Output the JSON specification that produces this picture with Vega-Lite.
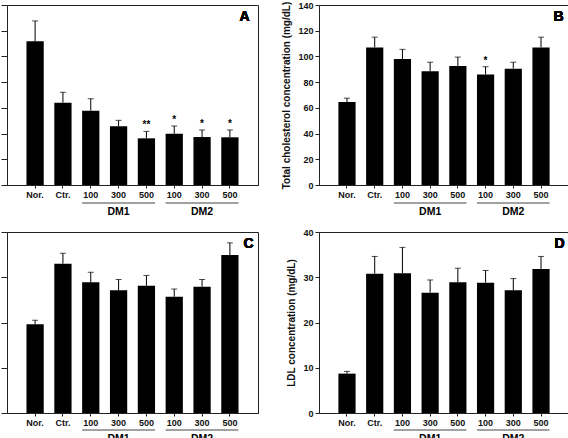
{
  "$schema": "https://vega.github.io/schema/vega-lite/v6.json",
  "autosize": {"type": "pad"},
  "padding": {"left": 0, "top": 0, "right": 0, "bottom": 0},
  "background": "white",
  "config": {
    "view": {"stroke": "#222", "strokeWidth": 1},
    "font": "Liberation Sans",
    "axis": {
      "grid": false, "domainColor": "#222", "tickColor": "#222", "labelColor": "#111", "titleColor": "#111",
      "labelFont": "Liberation Sans", "labelFontWeight": "bold", "labelFontSize": 9,
      "titleFont": "Liberation Sans", "titleFontWeight": "bold", "titleFontSize": 10
    },
    "axisY": {"labelOverlap": false, "labelFlush": false},
    "bar": {"color": "#000"},
    "text": {"font": "Liberation Sans", "fontWeight": "bold", "color": "#000"}
  },
  "datasets": {
    "A": [
      {"cat": "Nor.", "mean": 111.8, "err": 127.6, "sig": ""},
      {"cat": "Ctr.", "mean": 64.0, "err": 72.1, "sig": ""},
      {"cat": "DM1-100", "mean": 57.8, "err": 67.1, "sig": ""},
      {"cat": "DM1-300", "mean": 45.6, "err": 50.3, "sig": ""},
      {"cat": "DM1-500", "mean": 36.3, "err": 41.7, "sig": "**"},
      {"cat": "DM2-100", "mean": 39.9, "err": 45.9, "sig": "*"},
      {"cat": "DM2-300", "mean": 37.3, "err": 42.8, "sig": "*"},
      {"cat": "DM2-500", "mean": 37.1, "err": 42.8, "sig": "*"}
    ],
    "B": [
      {"cat": "Nor.", "mean": 64.5, "err": 67.5, "sig": ""},
      {"cat": "Ctr.", "mean": 107, "err": 115, "sig": ""},
      {"cat": "DM1-100", "mean": 98, "err": 105.5, "sig": ""},
      {"cat": "DM1-300", "mean": 88.5, "err": 95.5, "sig": ""},
      {"cat": "DM1-500", "mean": 92.5, "err": 99.5, "sig": ""},
      {"cat": "DM2-100", "mean": 86, "err": 92, "sig": "*"},
      {"cat": "DM2-300", "mean": 90.5, "err": 95.5, "sig": ""},
      {"cat": "DM2-500", "mean": 107, "err": 115, "sig": ""}
    ],
    "C": [
      {"cat": "Nor.", "mean": 19.6, "err": 20.5, "sig": ""},
      {"cat": "Ctr.", "mean": 33.0, "err": 35.3, "sig": ""},
      {"cat": "DM1-100", "mean": 28.9, "err": 31.1, "sig": ""},
      {"cat": "DM1-300", "mean": 27.1, "err": 29.5, "sig": ""},
      {"cat": "DM1-500", "mean": 28.1, "err": 30.4, "sig": ""},
      {"cat": "DM2-100", "mean": 25.7, "err": 27.4, "sig": ""},
      {"cat": "DM2-300", "mean": 27.9, "err": 29.5, "sig": ""},
      {"cat": "DM2-500", "mean": 34.9, "err": 37.6, "sig": ""}
    ],
    "D": [
      {"cat": "Nor.", "mean": 8.7, "err": 9.2, "sig": ""},
      {"cat": "Ctr.", "mean": 30.8, "err": 34.6, "sig": ""},
      {"cat": "DM1-100", "mean": 30.9, "err": 36.6, "sig": ""},
      {"cat": "DM1-300", "mean": 26.6, "err": 29.4, "sig": ""},
      {"cat": "DM1-500", "mean": 28.9, "err": 32.0, "sig": ""},
      {"cat": "DM2-100", "mean": 28.8, "err": 31.5, "sig": ""},
      {"cat": "DM2-300", "mean": 27.1, "err": 29.7, "sig": ""},
      {"cat": "DM2-500", "mean": 31.8, "err": 34.6, "sig": ""}
    ],
    "groups": [
      {"g": "DM1", "s": "DM1-100", "m": "DM1-300", "e": "DM1-500"},
      {"g": "DM2", "s": "DM2-100", "m": "DM2-300", "e": "DM2-500"}
    ]
  },
  "columns": 2,
  "bounds": "flush",
  "spacing": {"row": 47, "column": 61},
  "concat": [
    {
      "width": 251, "height": 180,
      "data": {"name": "A"},
      "encoding": {
        "x": {"field": "cat", "type": "nominal",
          "scale": {"domain": ["Nor.", "Ctr.", "DM1-100", "DM1-300", "DM1-500", "DM2-100", "DM2-300", "DM2-500"], "paddingInner": 0.38, "paddingOuter": 0.7},
          "axis": {"title": null, "labelAngle": 0, "tickSize": 3, "labelPadding": 2, "labelExpr": "indexof(datum.label,'-')>=0 ? substring(datum.label,4) : datum.label"}}
      },
      "layer": [
        {"mark": {"type": "bar"}, "encoding": {"y": {"field": "mean", "type": "quantitative", "scale": {"domain": [0, 140]}, "axis": {"title": null, "labels": false, "values": [0, 20, 40, 60, 80, 100, 120, 140], "tickSize": 6}}}},
        {"mark": {"type": "rule", "color": "#000"}, "encoding": {"y": {"field": "mean", "type": "quantitative", "axis": {"title": null, "labels": false, "values": [0, 20, 40, 60, 80, 100, 120, 140], "tickSize": 6}}, "y2": {"field": "err"}}},
        {"mark": {"type": "tick", "color": "#000", "size": 6, "thickness": 1}, "encoding": {"y": {"field": "err", "type": "quantitative", "axis": {"title": null, "labels": false, "values": [0, 20, 40, 60, 80, 100, 120, 140], "tickSize": 6}}}},
        {"mark": {"type": "text", "baseline": "bottom", "dy": -1, "fontSize": 10}, "encoding": {"y": {"field": "err", "type": "quantitative", "axis": {"title": null, "labels": false, "values": [0, 20, 40, 60, 80, 100, 120, 140], "tickSize": 6}}, "text": {"field": "sig"}}},
        {"data": {"name": "groups"}, "mark": {"type": "rule", "color": "#444", "yOffset": 18}, "encoding": {"x": {"field": "s", "type": "nominal", "bandPosition": 0}, "x2": {"field": "e", "bandPosition": 1}, "y": {"datum": 0, "type": "quantitative", "axis": {"title": null, "labels": false, "values": [0, 20, 40, 60, 80, 100, 120, 140], "tickSize": 6}}}},
        {"data": {"name": "groups"}, "mark": {"type": "text", "fontSize": 10.5, "baseline": "middle", "yOffset": 27}, "encoding": {"x": {"field": "m", "type": "nominal"}, "y": {"datum": 0, "type": "quantitative", "axis": {"title": null, "labels": false, "values": [0, 20, 40, 60, 80, 100, 120, 140], "tickSize": 6}}, "text": {"field": "g"}}},
        {"mark": {"type": "text", "fontSize": 14, "baseline": "middle", "align": "center", "dx": 6, "dy": 12}, "encoding": {"x": {"datum": "DM2-500", "bandPosition": 1}, "y": {"datum": 140, "type": "quantitative", "axis": {"title": null, "labels": false, "values": [0, 20, 40, 60, 80, 100, 120, 140], "tickSize": 6}}, "text": {"value": "A"}}}
      ]
    },
    {
      "width": 250, "height": 180,
      "data": {"name": "B"},
      "encoding": {
        "x": {"field": "cat", "type": "nominal",
          "scale": {"domain": ["Nor.", "Ctr.", "DM1-100", "DM1-300", "DM1-500", "DM2-100", "DM2-300", "DM2-500"], "paddingInner": 0.38, "paddingOuter": 0.7},
          "axis": {"title": null, "labelAngle": 0, "tickSize": 3, "labelPadding": 2, "labelExpr": "indexof(datum.label,'-')>=0 ? substring(datum.label,4) : datum.label"}}
      },
      "layer": [
        {"mark": {"type": "bar"}, "encoding": {"y": {"field": "mean", "type": "quantitative", "scale": {"domain": [0, 140]}, "axis": {"title": "Total cholesterol concentration (mg/dL)", "values": [0, 20, 40, 60, 80, 100, 120, 140], "tickSize": 4, "labelPadding": 2, "titlePadding": 6}}}},
        {"mark": {"type": "rule", "color": "#000"}, "encoding": {"y": {"field": "mean", "type": "quantitative", "axis": {"title": "Total cholesterol concentration (mg/dL)", "values": [0, 20, 40, 60, 80, 100, 120, 140], "tickSize": 4, "labelPadding": 2, "titlePadding": 6}}, "y2": {"field": "err"}}},
        {"mark": {"type": "tick", "color": "#000", "size": 6, "thickness": 1}, "encoding": {"y": {"field": "err", "type": "quantitative", "axis": {"title": "Total cholesterol concentration (mg/dL)", "values": [0, 20, 40, 60, 80, 100, 120, 140], "tickSize": 4, "labelPadding": 2, "titlePadding": 6}}}},
        {"mark": {"type": "text", "baseline": "bottom", "dy": -1, "fontSize": 10}, "encoding": {"y": {"field": "err", "type": "quantitative", "axis": {"title": "Total cholesterol concentration (mg/dL)", "values": [0, 20, 40, 60, 80, 100, 120, 140], "tickSize": 4, "labelPadding": 2, "titlePadding": 6}}, "text": {"field": "sig"}}},
        {"data": {"name": "groups"}, "mark": {"type": "rule", "color": "#444", "yOffset": 18}, "encoding": {"x": {"field": "s", "type": "nominal", "bandPosition": 0}, "x2": {"field": "e", "bandPosition": 1}, "y": {"datum": 0, "type": "quantitative", "axis": {"title": "Total cholesterol concentration (mg/dL)", "values": [0, 20, 40, 60, 80, 100, 120, 140], "tickSize": 4, "labelPadding": 2, "titlePadding": 6}}}},
        {"data": {"name": "groups"}, "mark": {"type": "text", "fontSize": 10.5, "baseline": "middle", "yOffset": 27}, "encoding": {"x": {"field": "m", "type": "nominal"}, "y": {"datum": 0, "type": "quantitative", "axis": {"title": "Total cholesterol concentration (mg/dL)", "values": [0, 20, 40, 60, 80, 100, 120, 140], "tickSize": 4, "labelPadding": 2, "titlePadding": 6}}, "text": {"field": "g"}}},
        {"mark": {"type": "text", "fontSize": 14, "baseline": "middle", "align": "center", "dx": 9, "dy": 12}, "encoding": {"x": {"datum": "DM2-500", "bandPosition": 1}, "y": {"datum": 140, "type": "quantitative", "axis": {"title": "Total cholesterol concentration (mg/dL)", "values": [0, 20, 40, 60, 80, 100, 120, 140], "tickSize": 4, "labelPadding": 2, "titlePadding": 6}}, "text": {"value": "B"}}}
      ]
    },
    {
      "width": 251, "height": 181,
      "data": {"name": "C"},
      "encoding": {
        "x": {"field": "cat", "type": "nominal",
          "scale": {"domain": ["Nor.", "Ctr.", "DM1-100", "DM1-300", "DM1-500", "DM2-100", "DM2-300", "DM2-500"], "paddingInner": 0.38, "paddingOuter": 0.7},
          "axis": {"title": null, "labelAngle": 0, "tickSize": 3, "labelPadding": 2, "labelExpr": "indexof(datum.label,'-')>=0 ? substring(datum.label,4) : datum.label"}}
      },
      "layer": [
        {"mark": {"type": "bar"}, "encoding": {"y": {"field": "mean", "type": "quantitative", "scale": {"domain": [0, 40]}, "axis": {"title": null, "labels": false, "values": [0, 10, 20, 30, 40], "tickSize": 6}}}},
        {"mark": {"type": "rule", "color": "#000"}, "encoding": {"y": {"field": "mean", "type": "quantitative", "axis": {"title": null, "labels": false, "values": [0, 10, 20, 30, 40], "tickSize": 6}}, "y2": {"field": "err"}}},
        {"mark": {"type": "tick", "color": "#000", "size": 6, "thickness": 1}, "encoding": {"y": {"field": "err", "type": "quantitative", "axis": {"title": null, "labels": false, "values": [0, 10, 20, 30, 40], "tickSize": 6}}}},
        {"data": {"name": "groups"}, "mark": {"type": "rule", "color": "#444", "yOffset": 17}, "encoding": {"x": {"field": "s", "type": "nominal", "bandPosition": 0}, "x2": {"field": "e", "bandPosition": 1}, "y": {"datum": 0, "type": "quantitative", "axis": {"title": null, "labels": false, "values": [0, 10, 20, 30, 40], "tickSize": 6}}}},
        {"data": {"name": "groups"}, "mark": {"type": "text", "fontSize": 10.5, "baseline": "middle", "yOffset": 26}, "encoding": {"x": {"field": "m", "type": "nominal"}, "y": {"datum": 0, "type": "quantitative", "axis": {"title": null, "labels": false, "values": [0, 10, 20, 30, 40], "tickSize": 6}}, "text": {"field": "g"}}},
        {"mark": {"type": "text", "fontSize": 14, "baseline": "middle", "align": "center", "dx": 10, "dy": 12}, "encoding": {"x": {"datum": "DM2-500", "bandPosition": 1}, "y": {"datum": 40, "type": "quantitative", "axis": {"title": null, "labels": false, "values": [0, 10, 20, 30, 40], "tickSize": 6}}, "text": {"value": "C"}}}
      ]
    },
    {
      "width": 250, "height": 181,
      "data": {"name": "D"},
      "encoding": {
        "x": {"field": "cat", "type": "nominal",
          "scale": {"domain": ["Nor.", "Ctr.", "DM1-100", "DM1-300", "DM1-500", "DM2-100", "DM2-300", "DM2-500"], "paddingInner": 0.38, "paddingOuter": 0.7},
          "axis": {"title": null, "labelAngle": 0, "tickSize": 3, "labelPadding": 2, "labelExpr": "indexof(datum.label,'-')>=0 ? substring(datum.label,4) : datum.label"}}
      },
      "layer": [
        {"mark": {"type": "bar"}, "encoding": {"y": {"field": "mean", "type": "quantitative", "scale": {"domain": [0, 40]}, "axis": {"title": "LDL concentration (mg/dL)", "values": [0, 10, 20, 30, 40], "tickSize": 4, "labelPadding": 2, "titlePadding": 6}}}},
        {"mark": {"type": "rule", "color": "#000"}, "encoding": {"y": {"field": "mean", "type": "quantitative", "axis": {"title": "LDL concentration (mg/dL)", "values": [0, 10, 20, 30, 40], "tickSize": 4, "labelPadding": 2, "titlePadding": 6}}, "y2": {"field": "err"}}},
        {"mark": {"type": "tick", "color": "#000", "size": 6, "thickness": 1}, "encoding": {"y": {"field": "err", "type": "quantitative", "axis": {"title": "LDL concentration (mg/dL)", "values": [0, 10, 20, 30, 40], "tickSize": 4, "labelPadding": 2, "titlePadding": 6}}}},
        {"data": {"name": "groups"}, "mark": {"type": "rule", "color": "#444", "yOffset": 17}, "encoding": {"x": {"field": "s", "type": "nominal", "bandPosition": 0}, "x2": {"field": "e", "bandPosition": 1}, "y": {"datum": 0, "type": "quantitative", "axis": {"title": "LDL concentration (mg/dL)", "values": [0, 10, 20, 30, 40], "tickSize": 4, "labelPadding": 2, "titlePadding": 6}}}},
        {"data": {"name": "groups"}, "mark": {"type": "text", "fontSize": 10.5, "baseline": "middle", "yOffset": 26}, "encoding": {"x": {"field": "m", "type": "nominal"}, "y": {"datum": 0, "type": "quantitative", "axis": {"title": "LDL concentration (mg/dL)", "values": [0, 10, 20, 30, 40], "tickSize": 4, "labelPadding": 2, "titlePadding": 6}}, "text": {"field": "g"}}},
        {"mark": {"type": "text", "fontSize": 14, "baseline": "middle", "align": "center", "dx": 10, "dy": 12}, "encoding": {"x": {"datum": "DM2-500", "bandPosition": 1}, "y": {"datum": 40, "type": "quantitative", "axis": {"title": "LDL concentration (mg/dL)", "values": [0, 10, 20, 30, 40], "tickSize": 4, "labelPadding": 2, "titlePadding": 6}}, "text": {"value": "D"}}}
      ]
    }
  ]
}
